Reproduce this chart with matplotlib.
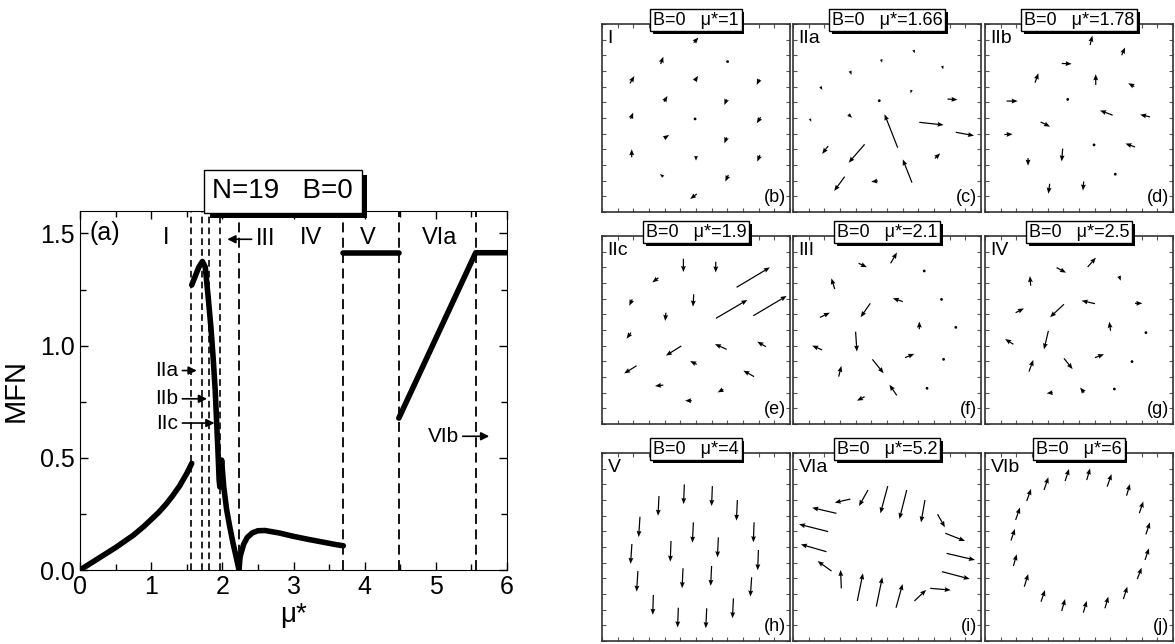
import matplotlib
matplotlib.use("Agg")
import matplotlib.pyplot as plt
import matplotlib.patheffects as pe
from matplotlib.ticker import MultipleLocator
import numpy as np

plt.rcParams["font.family"] = ["Liberation Sans", "DejaVu Sans"]

# ---- panel (a): MFN versus mu* ----
seg1_mu = [0, 0.25, 0.5, 0.75, 0.9, 1.0, 1.1, 1.2, 1.3, 1.4, 1.5, 1.57]
seg1_mfn = [0, 0.05, 0.10, 0.155, 0.195, 0.225, 0.255, 0.29, 0.33, 0.375, 0.43, 0.475]

seg2_mu = [1.57, 1.62, 1.67, 1.72, 1.76, 1.80, 1.84, 1.87, 1.90, 1.92, 1.94,
           1.955, 1.965, 1.99, 2.02, 2.06, 2.10, 2.15, 2.20, 2.234]
seg2_mfn = [1.27, 1.31, 1.35, 1.375, 1.35, 1.22, 1.08, 0.95, 0.80, 0.66, 0.52,
            0.40, 0.37, 0.49, 0.37, 0.27, 0.20, 0.12, 0.05, 0.0]

seg3_mu = [2.234, 2.25, 2.3, 2.35, 2.42, 2.5, 2.6, 2.8, 3.0, 3.2, 3.4, 3.6, 3.70]
seg3_mfn = [0, 0.06, 0.115, 0.145, 0.165, 0.175, 0.176, 0.165, 0.150, 0.137,
            0.125, 0.113, 0.108]

seg4_mu = [3.70, 4.48]
seg4_mfn = [1.414, 1.414]

seg5_mu = [4.48, 5.56, 6.0]
seg5_mfn = [0.677, 1.414, 1.414]

dotted_bounds = [1.565, 1.715, 1.813, 1.963]
dashed_bounds = [2.234, 3.70, 4.477, 5.56]

region_names = ["I", "IV", "V", "VIa"]
region_mu = [1.215, 3.25, 4.04, 5.05]

# ---- small panels: positions (x, y) and vectors (u, v) of the 19 particles ----
b_x = [48.8, 31.2, 66.8, 14.9, 49.3, 83.7, 33.0, 66.3, 15.2, 49.5, 84.4, 33.0, 66.3, 15.8, 50.0, 84.0, 32.6, 67.2, 50.4]
b_y = [90.1, 78.7, 80.0, 68.4, 69.7, 70.6, 58.7, 59.9, 49.5, 49.5, 50.4, 39.2, 39.7, 29.1, 29.8, 30.3, 18.8, 19.7, 9.6]
b_u = [2.5, 1.4, 0.4, 2.3, 1.8, -1.4, 1.8, -1.2, 1.4, 0.2, -2.1, 2.7, -1.2, 0.0, 0.0, -1.4, -1.8, -1.6, -3.5]
b_v = [2.7, 3.9, 0.7, 3.9, 2.7, -3.0, 3.0, -3.0, 3.4, 0.9, -3.2, 1.8, -3.2, 4.3, -2.5, -3.5, 1.4, -3.5, -2.7]

c_x = [64.2, 46.9, 79.4, 30.3, 14.6, 63.0, 45.9, 82.2, 9.0, 29.5, 55.7, 67.2, 86.6, 18.7, 38.1, 63.3, 75.5, 45.1, 27.5]
c_y = [86.2, 81.2, 77.7, 75.0, 66.7, 64.9, 59.2, 60.1, 49.6, 51.9, 34.2, 47.7, 42.4, 35.1, 36.0, 15.6, 28.5, 16.5, 18.8]
c_u = [0.5, 0.5, 0.5, 0.9, 1.0, -0.4, 0.9, 5.3, 0.7, 1.9, -7.0, 12.9, 9.7, -3.2, -8.5, -4.9, 2.8, -3.5, -5.6]
c_v = [-1.8, -1.8, -1.8, -2.0, -1.8, -1.8, -1.1, -0.4, -1.6, -1.8, 17.8, -1.4, -1.8, -4.2, -9.8, 12.4, 2.7, -0.4, -7.6]

d_x = [55.9, 72.7, 40.8, 26.6, 58.9, 79.4, 11.5, 44.0, 67.9, 87.8, 29.6, 10.3, 58.0, 79.8, 22.9, 41.3, 69.3, 34.4, 52.5]
d_y = [88.8, 83.4, 79.0, 68.8, 67.6, 66.7, 59.0, 59.9, 51.5, 50.6, 47.9, 41.2, 35.7, 34.6, 28.7, 33.7, 20.1, 15.0, 16.2]
d_u = [1.2, 1.8, 5.3, 1.8, 0.0, -3.2, 5.9, 0.2, -6.7, -5.3, 5.0, 4.4, -0.7, -5.1, 0.0, -0.5, -0.4, -0.7, -0.4]
d_v = [5.0, 4.1, -0.2, 5.0, 5.7, 1.8, 0.0, -1.2, 2.5, 1.2, -2.5, 0.2, 1.1, 1.8, -4.1, -6.8, -1.2, -5.3, -4.8]

e_x = [43.3, 60.5, 30.0, 71.6, 16.1, 48.8, 60.6, 80.5, 34.0, 15.4, 42.2, 66.3, 87.2, 18.4, 50.4, 80.9, 32.6, 64.5, 47.7]
e_y = [87.9, 86.3, 77.8, 72.7, 66.3, 69.0, 56.2, 57.6, 59.2, 48.6, 41.5, 39.7, 41.1, 31.0, 31.7, 25.2, 20.7, 18.4, 12.4]
e_u = [0.0, 0.0, -3.2, 17.7, -1.6, -0.4, 16.7, 17.7, -0.4, -2.3, -8.2, -6.2, -4.6, -6.6, -3.5, -5.7, -4.4, -3.0, -3.5]
e_v = [-7.1, -5.7, -2.5, 10.6, -3.4, -6.6, 9.8, 10.5, -4.4, -3.2, -5.1, 2.8, 2.7, -4.1, 1.8, 3.2, -0.5, -1.6, 0.0]

f_x = [51.9, 34.9, 69.8, 22.2, 58.4, 79.0, 41.1, 14.3, 67.2, 86.6, 33.3, 15.5, 59.6, 80.1, 42.2, 24.3, 55.2, 71.3, 38.1]
f_y = [85.5, 85.5, 81.4, 71.8, 65.1, 66.3, 64.2, 56.7, 50.4, 51.4, 49.1, 39.4, 35.3, 34.4, 34.4, 25.2, 15.2, 19.0, 14.5]
f_u = [3.4, 4.4, 0.2, -1.8, -5.3, 0.0, -5.1, 5.3, 0.0, 0.0, 0.7, -5.3, 4.9, 0.0, 6.0, 1.4, -3.9, 0.2, -4.1]
f_v = [5.7, -2.1, -0.9, 5.7, 1.8, 0.9, -7.4, 2.5, 4.1, -1.4, -10.6, 2.3, 2.0, 1.2, -7.4, 5.7, 5.7, 0.7, -2.1]

g_x = [54.6, 38.1, 71.3, 24.3, 58.5, 79.8, 16.3, 42.0, 66.8, 85.6, 33.7, 15.1, 58.5, 78.2, 42.0, 23.4, 52.7, 68.8, 36.0]
g_y = [83.5, 83.2, 78.7, 73.6, 64.0, 64.2, 59.2, 63.7, 49.6, 48.6, 49.5, 42.4, 35.3, 33.2, 34.9, 27.9, 16.7, 18.6, 16.7]
g_u = [4.4, 5.0, 0.9, -0.4, -7.1, 3.9, 4.4, -7.4, -0.7, 0.2, -2.3, -4.4, 4.8, 0.5, 4.6, 2.3, -2.1, -0.2, -3.2]
g_v = [5.0, -2.7, -2.5, 5.1, 1.6, 0.0, 2.3, -6.9, 4.8, -1.6, -9.8, 2.8, 1.8, -0.9, -5.7, 6.2, 2.7, 1.1, -0.4]

h_x = [43.8, 58.7, 30.3, 72.0, 20.2, 48.6, 80.9, 36.7, 61.9, 15.9, 83.2, 43.1, 58.3, 19.1, 79.6, 27.3, 69.9, 40.6, 55.7]
h_y = [83.3, 82.4, 77.1, 75.0, 66.1, 63.1, 63.1, 53.2, 55.1, 51.6, 48.4, 38.7, 39.9, 37.2, 33.9, 24.5, 22.7, 17.7, 17.4]
h_u = [-0.4, -0.4, -0.5, -0.5, -0.7, -0.5, -0.4, -0.4, -0.5, -0.7, -0.4, -0.5, -0.5, -0.7, -0.7, -0.3, -0.5, -0.4, -0.5]
h_v = [-10.5, -10.6, -10.5, -11.0, -10.8, -10.8, -10.6, -11.0, -10.6, -10.6, -10.8, -10.6, -10.6, -11.0, -10.3, -10.6, -10.6, -10.5, -10.6]

i_x = [30.5, 39.9, 50.4, 60.5, 70.2, 23.1, 76.9, 18.7, 81.0, 17.8, 81.7, 20.5, 25.7, 79.2, 34.2, 44.3, 54.8, 64.6, 73.0]
i_y = [75.5, 80.3, 82.4, 80.3, 75.0, 67.9, 67.4, 58.2, 57.3, 47.5, 46.6, 37.2, 28.0, 36.9, 21.3, 18.3, 17.7, 21.3, 28.0]
i_u = [-8.3, -4.8, -3.9, -3.9, -2.1, -12.9, 3.9, -15.5, 10.5, -13.6, 15.1, -7.4, -0.4, 14.8, 3.0, 3.2, 3.5, 6.2, 10.9]
i_v = [-1.9, -8.5, -14.5, -15.4, -11.9, 3.0, -6.9, 3.9, -4.1, 3.9, -3.5, 5.3, 9.8, -3.9, 14.7, 15.6, 12.6, 5.9, -0.9]

j_x = [42.6, 54.1, 31.4, 65.0, 22.2, 75.3, 16.3, 82.1, 13.8, 85.6, 15.1, 85.1, 20.9, 81.0, 29.8, 73.6, 40.8, 52.3, 63.8]
j_y = [85.1, 85.6, 80.3, 82.1, 74.5, 77.3, 64.4, 68.0, 53.4, 56.7, 39.9, 43.1, 28.9, 33.0, 20.9, 22.3, 16.0, 15.1, 17.4]
j_u = [2.1, 1.8, 2.3, 2.3, 2.3, 1.8, 2.3, 2.1, 2.1, 2.1, 1.8, 2.1, 2.1, 2.3, 2.1, 2.1, 1.8, 1.8, 1.8]
j_v = [6.4, 6.2, 6.8, 6.7, 6.4, 6.2, 6.6, 6.2, 6.2, 6.4, 6.2, 6.2, 6.7, 6.0, 6.2, 6.6, 6.3, 6.2, 6.2]

panel_data = [(b_x, b_y, b_u, b_v), (c_x, c_y, c_u, c_v), (d_x, d_y, d_u, d_v),
              (e_x, e_y, e_u, e_v), (f_x, f_y, f_u, f_v), (g_x, g_y, g_u, g_v),
              (h_x, h_y, h_u, h_v), (i_x, i_y, i_u, i_v), (j_x, j_y, j_u, j_v)]
phase_names = ["I", "IIa", "IIb", "IIc", "III", "IV", "V", "VIa", "VIb"]
mu_values = ["1", "1.66", "1.78", "1.9", "2.1", "2.5", "4", "5.2", "6"]
panel_letters = ["(b)", "(c)", "(d)", "(e)", "(f)", "(g)", "(h)", "(i)", "(j)"]


def shadow_box(txt, offset):
    txt.get_bbox_patch().set_path_effects(
        [pe.SimplePatchShadow(offset=offset, shadow_rgbFace="black", alpha=1.0),
         pe.Normal()])


W, H = 1175, 644
fig = plt.figure(figsize=(W / 100, H / 100), dpi=100)

# main plot
ax = fig.add_axes([80 / W, 1 - 570 / H, 427 / W, 359 / H])
for mu, mfn in [(seg1_mu, seg1_mfn), (seg2_mu, seg2_mfn), (seg3_mu, seg3_mfn),
                (seg4_mu, seg4_mfn), (seg5_mu, seg5_mfn)]:
    ax.plot(mu, mfn, color="black", lw=4, solid_capstyle="round",
            solid_joinstyle="round", zorder=3)
for b in dotted_bounds:
    ax.axvline(b, color="black", lw=1.2, ls=(0, (4, 2.5)), zorder=2)
for b in dashed_bounds:
    ax.axvline(b, color="black", lw=1.3, ls=(0, (5.5, 3)), zorder=2)

ax.set_xlim(0, 6)
ax.set_ylim(0, 1.6)
ax.xaxis.set_major_locator(MultipleLocator(1))
ax.xaxis.set_minor_locator(MultipleLocator(0.5))
ax.yaxis.set_major_locator(MultipleLocator(0.5))
ax.yaxis.set_minor_locator(MultipleLocator(0.25))
ax.tick_params(which="both", direction="in", top=True, right=True, labelsize=18)
ax.tick_params(which="major", length=6, width=1)
ax.tick_params(which="minor", length=4, width=1)
ax.set_xlabel("μ*", fontsize=20, labelpad=2)
ax.set_ylabel("MFN", fontsize=21, labelpad=8)

ax.text(0.35, 1.5, "(a)", fontsize=18, ha="center", va="center")
for name, mu in zip(region_names, region_mu):
    ax.text(mu, 1.48, name, fontsize=17, ha="center", va="center")

arrow_kw = dict(arrowstyle="-|>", color="black", lw=1.2, mutation_scale=12,
                shrinkA=1, shrinkB=0)
ax.annotate("III", xy=(2.07, 1.474), xytext=(2.47, 1.474), fontsize=17,
            ha="left", va="center", arrowprops=arrow_kw)
ax.annotate("IIa", xy=(1.64, 0.889), xytext=(1.38, 0.889), fontsize=15,
            ha="right", va="center", arrowprops=arrow_kw)
ax.annotate("IIb", xy=(1.785, 0.763), xytext=(1.38, 0.763), fontsize=15,
            ha="right", va="center", arrowprops=arrow_kw)
ax.annotate("IIc", xy=(1.89, 0.655), xytext=(1.38, 0.655), fontsize=15,
            ha="right", va="center", arrowprops=arrow_kw)
ax.annotate("VIb", xy=(5.75, 0.596), xytext=(5.32, 0.596), fontsize=15,
            ha="right", va="center", arrowprops=arrow_kw)

t = ax.text(0.475, 1.055, "N=19   B=0", transform=ax.transAxes, fontsize=20,
            ha="center", va="center", zorder=5,
            bbox=dict(boxstyle="square,pad=0.3", fc="white", ec="black", lw=1))
shadow_box(t, (4, -4))

# small panels
col_left = [602, 793, 985]
row_top = [24, 236, 453]
size = 188
for k, (px, py, pu, pv) in enumerate(panel_data):
    r, c = divmod(k, 3)
    pax = fig.add_axes([col_left[c] / W, 1 - (row_top[r] + size) / H,
                        size / W, size / H])
    pax.quiver(px, py, pu, pv, angles="xy", scale_units="xy", scale=1,
               color="black", width=0.0065, headwidth=4, headlength=5,
               headaxislength=4.5, minlength=2.5)
    pax.set_xlim(0, 100)
    pax.set_ylim(0, 100)
    pax.xaxis.set_major_locator(MultipleLocator(100 / 12))
    pax.yaxis.set_major_locator(MultipleLocator(100 / 12))
    pax.tick_params(direction="in", length=3, width=0.8, color="#555555",
                    top=True, right=True, labelbottom=False, labelleft=False)
    for s in pax.spines.values():
        s.set_linewidth(1.2)
        s.set_color("#333333")
    pax.text(0.03, 0.97, phase_names[k], transform=pax.transAxes, fontsize=14,
             ha="left", va="top")
    pax.text(0.98, 0.03, panel_letters[k], transform=pax.transAxes, fontsize=13,
             ha="right", va="bottom")
    tt = pax.text(0.5, 1.02, "B=0   μ*=" + mu_values[k], transform=pax.transAxes,
                  fontsize=13, ha="center", va="center", zorder=5,
                  bbox=dict(boxstyle="square,pad=0.15", fc="white", ec="black",
                            lw=1))
    shadow_box(tt, (2, -2))

fig.savefig("out.png", dpi=100)
